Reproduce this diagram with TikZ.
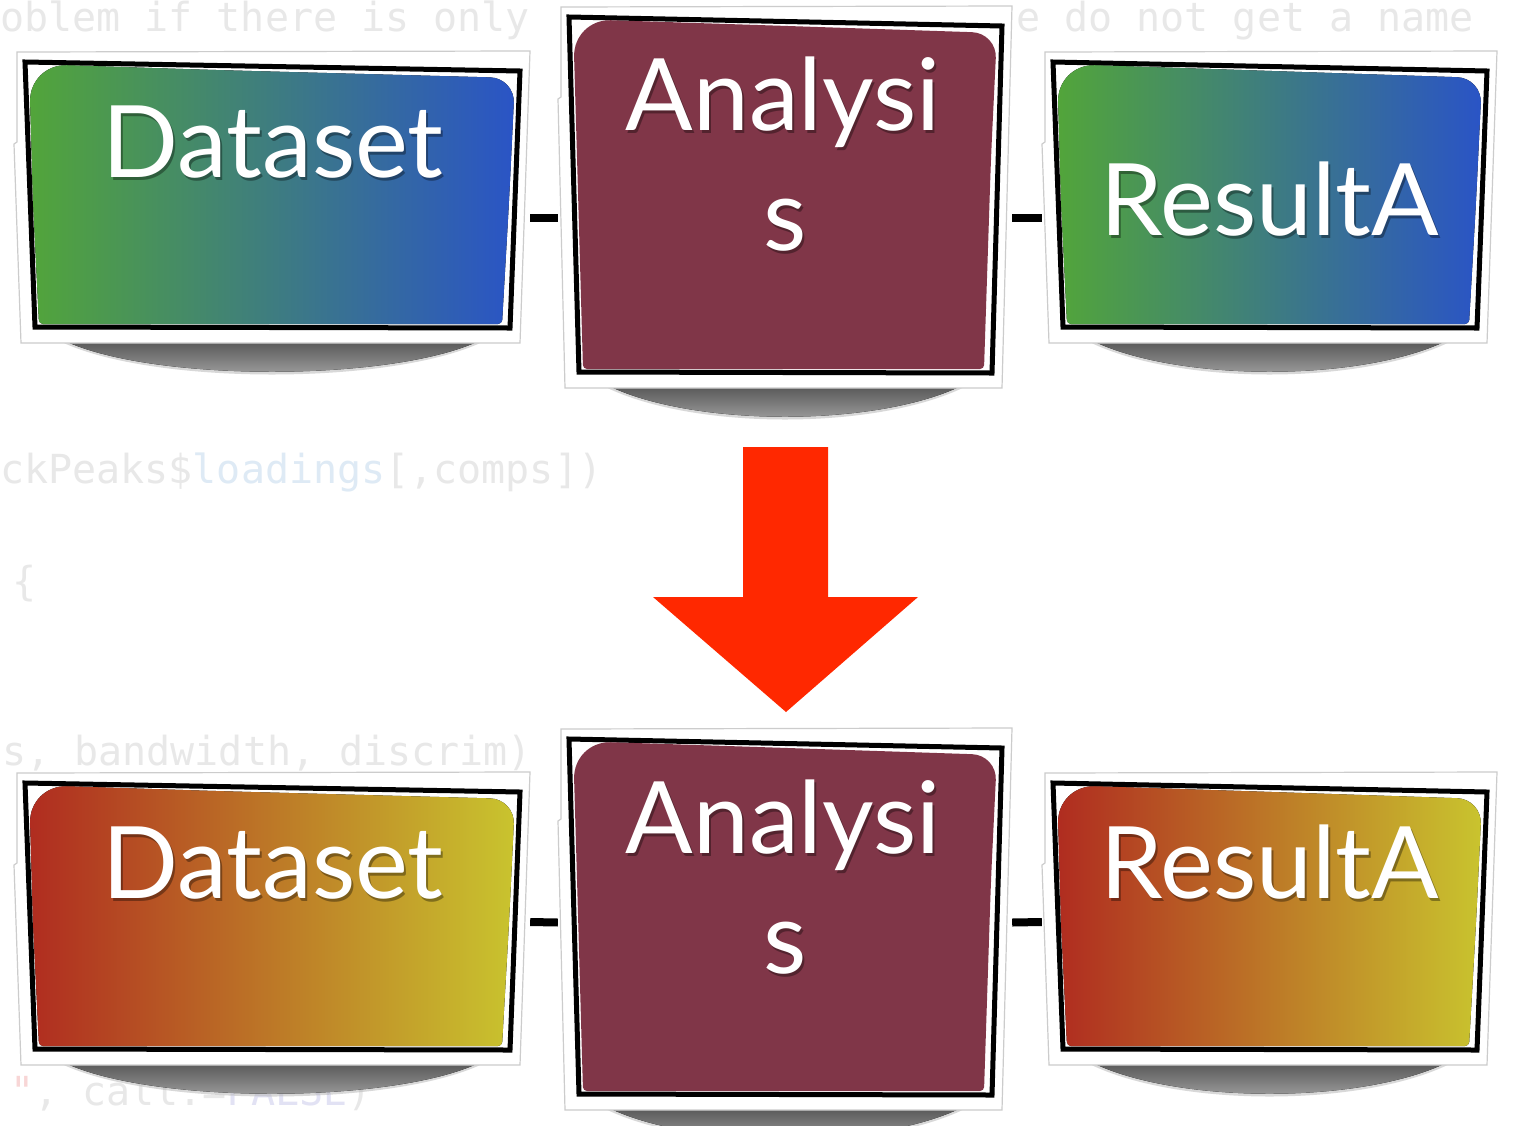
\documentclass[tikz,border=0pt]{standalone}
\usepackage{fontspec}
\usetikzlibrary{positioning, fit}
\newfontfamily\labelfont{Lato}
\newfontfamily\codefont{DejaVu Sans Mono}

\definecolor{dsgreen}{RGB}{82,165,58}
\definecolor{dsblue}{RGB}{42,84,198}
\definecolor{dsred}{RGB}{176,44,32}
\definecolor{dsyellow}{RGB}{201,196,46}
\definecolor{anared}{RGB}{128,54,72}
\definecolor{bigarrow}{RGB}{255,40,0}
\definecolor{codegray}{RGB}{232,232,232}
\definecolor{codeblue}{RGB}{222,234,245}
\definecolor{codepurple}{RGB}{226,226,244}
\definecolor{codered}{RGB}{248,214,214}

\pgfdeclarelayer{background}
\pgfsetlayers{background,main}

\tikzset{
  lbl/.style={font=\labelfont\fontsize{100}{110}\selectfont, text=white, inner sep=0pt, anchor=base},
  lblshadow/.style={lbl, text=black, opacity=.35},
  code/.style={font=\codefont\fontsize{40}{44}\selectfont, text=codegray, inner sep=0pt, anchor=base west},
  link/.style={line width=8pt},
  cool/.style={left color=dsgreen, right color=dsblue},
  warm/.style={left color=dsred, right color=dsyellow},
  plain/.style={fill=anared},
}

% #1 name, #2,#3 top left and #4,#5 bottom right of the frame, #6 fill
\newcommand{\slidebox}[6]{%
  \fill[black!30, opacity=.5] (#2+38,#5-6) .. controls (#2+125,#5+44) and (#4-125,#5+44) .. (#4-38,#5-6) -- cycle;
  \fill[top color=black!68, bottom color=black!32] (#2+45,#5-5) .. controls (#2+130,#5+40) and (#4-130,#5+40) .. (#4-45,#5-5) -- cycle;
  \filldraw[fill=white, draw=black!20, line width=1.2pt] (#2+3,#3) -- (#4,#3-1) -- (#4-10,#5) -- (#2+7,#5) -- (#2,#3+92) -- (#2+3,#3+90) -- cycle;
  \filldraw[fill=white, line width=5pt] (#2+11,#3+10) -- (#4-10,#3+19) -- (#4-20,#5-15) -- (#2+21,#5-16) -- cycle;
  \fill[#6] (#2+19,#3+150) [rounded corners=38pt] -- (#2+15,#3+12) -- (#2+200,#3+18)
    [rounded corners=25pt] -- (#4-15,#3+26) -- (#4-21,#3+150)
    [rounded corners=4pt] -- (#4-28,#5-19) -- (#2+25,#5-19) -- cycle;
  \node[fit={(#2,#3) (#4,#5)}, inner sep=0pt] (#1) {};
}

% white text with a soft drop shadow
\newcommand{\slidelabel}[4]{%
  \node[lblshadow] (#1sh) at (#2+2,#3+3) {#4};
  \node[lbl] (#1) at (#2,#3) {#4};
}

\begin{document}
\begin{tikzpicture}[x=1pt, y=-1pt]
  \useasboundingbox (0,0) rectangle (1513,1125);

  \begin{pgfonlayer}{background}
    \fill[white] (0,0) rectangle (1513,1125);
    \node[code] (codeA) at (0,31) {oblem if there is only};
    \node[code] (codeB) at (1016,31) {e do not get a name};
    \node[code] (codeC) at (0,483) {ckPeaks\$\textcolor{codeblue}{loadings}[,comps])};
    \node[code] (codeD) at (12,595) {\{};
    \node[code] (codeE) at (2,765) {s, bandwidth, discrim)};
    \node[code] (codeF) at (10,1105) {\textcolor{codered}{"}, call.=\textcolor{codepurple}{FALSE})};
  \end{pgfonlayer}

  % upper row
  \slidebox{dataA}{14}{52}{530}{343}{cool}
  \slidebox{anaA}{558}{7}{1012}{388}{plain}
  \slidebox{resA}{1042}{52}{1497}{343}{cool}

  \slidelabel{dataAtxt}{273}{177}{Dataset}
  \slidelabel{anaAtxt}{783}{130}{Analysi}
  \slidelabel{anaAtxt2}{785}{250}{s}
  \slidelabel{resAtxt}{1270}{235}{ResultA}

  % lower row
  \slidebox{dataB}{14}{773}{530}{1065}{warm}
  \slidebox{anaB}{558}{729}{1012}{1110}{plain}
  \slidebox{resB}{1042}{773}{1497}{1065}{warm}

  \slidelabel{dataBtxt}{273}{898}{Dataset}
  \slidelabel{anaBtxt}{783}{853}{Analysi}
  \slidelabel{anaBtxt2}{785}{973}{s}
  \slidelabel{resBtxt}{1270}{898}{ResultA}

  \begin{pgfonlayer}{background}
    \draw[link] ([yshift=-20pt]dataA.east) -- ([yshift=-20pt]anaA.west);
    \draw[link] ([yshift=-20pt]anaA.east) -- ([yshift=-20pt]resA.west);
    \draw[link] ([yshift=-3pt]dataB.east) -- ([yshift=-3pt]anaB.west);
    \draw[link] ([yshift=-3pt]anaB.east) -- ([yshift=-3pt]resB.west);
  \end{pgfonlayer}

  \fill[bigarrow] (743,447) -- (828,447) -- (828,597) -- (918,597) -- (786,712) -- (653,597) -- (743,597) -- cycle;
\end{tikzpicture}
\end{document}
